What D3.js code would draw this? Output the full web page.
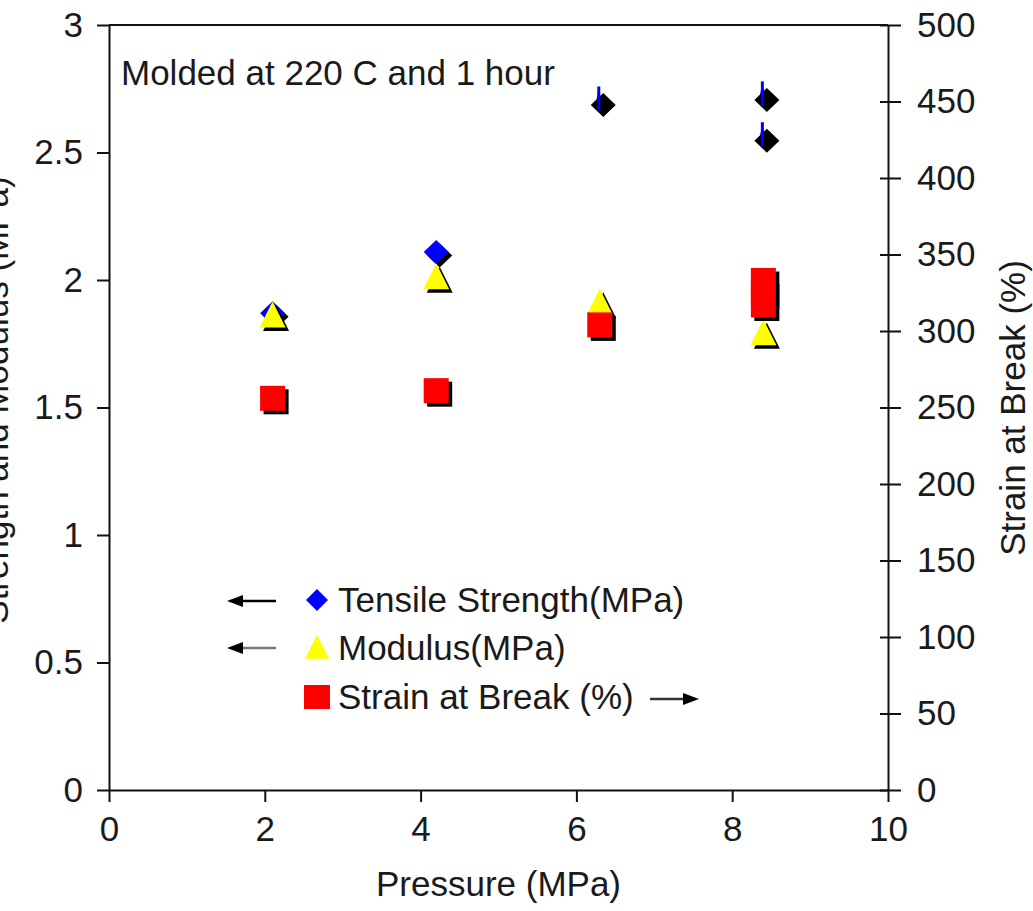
<!DOCTYPE html>
<html>
<head>
<meta charset="utf-8">
<script src="https://cdn.jsdelivr.net/npm/d3@7"></script>
<style>
  html, body { margin: 0; padding: 0; background: #fff; }
  svg { display: block; font-family: "Liberation Sans", Arial, sans-serif; }
</style>
</head>
<body>
<svg id="chart" width="1033" height="911"></svg>
<script>
// Pressure axis and the two value axes
const pressureTicks = [0, 2, 4, 6, 8, 10];
const leftTicks = [0, 0.5, 1, 1.5, 2, 2.5, 3];
const rightTicks = [0, 50, 100, 150, 200, 250, 300, 350, 400, 450, 500];

// Tensile strength (MPa) vs molding pressure (MPa)
const tensilePressure = [2.1, 4.2, 6.3, 8.4, 8.4];
const tensileValues   = [1.87, 2.11, 2.70, 2.72, 2.56];

// Modulus (MPa)
const modulusPressure = [2.1, 4.2, 6.3, 8.4];
const modulusValues   = [1.86, 2.01, 1.91, 1.79];

// Strain at break (%), right axis
const strainPressure = [2.1, 4.2, 6.3, 8.4, 8.4, 8.4];
const strainValues   = [256, 261, 304, 333, 325, 317];

const legendItems = ["Tensile Strength(MPa)", "Modulus(MPa)", "Strain at Break (%)"];

const svg = d3.select("#chart");
const W = 1033, H = 911;
const plot = { left: 109, right: 888, top: 25, bottom: 790 };
const textColor = "#1a1a1a";
const fontSize = 35;

svg.append("rect").attr("width", W).attr("height", H).attr("fill", "#fff");

const x = d3.scaleLinear().domain([0, 10]).range([plot.left, plot.right]);
const yL = d3.scaleLinear().domain([0, 3]).range([plot.bottom, plot.top]);
const yR = d3.scaleLinear().domain([0, 500]).range([plot.bottom, plot.top]);

// top frame line
svg.append("line")
  .attr("x1", plot.left).attr("x2", plot.right)
  .attr("y1", plot.top).attr("y2", plot.top)
  .attr("stroke", "#111").attr("stroke-width", 2);

function styleAxis(g) {
  g.selectAll("path.domain").attr("stroke", "#111").attr("stroke-width", 2);
  g.selectAll(".tick line").attr("stroke", "#111").attr("stroke-width", 2);
  g.selectAll(".tick text")
    .attr("fill", textColor)
    .style("font-size", fontSize + "px")
    .style("font-family", "\"Liberation Sans\", Arial, sans-serif");
}

// bottom axis
const gx = svg.append("g")
  .attr("transform", `translate(0,${plot.bottom})`)
  .call(d3.axisBottom(x).tickValues(pressureTicks).tickSize(12).tickSizeOuter(0).tickPadding(14));
styleAxis(gx);

// left axis
const gl = svg.append("g")
  .attr("transform", `translate(${plot.left},0)`)
  .call(d3.axisLeft(yL).tickValues(leftTicks).tickFormat(d3.format("")).tickSize(12).tickSizeOuter(0).tickPadding(14));
styleAxis(gl);

// right axis, ticks crossing the line
const gr = svg.append("g")
  .attr("transform", `translate(${plot.right},0)`)
  .call(d3.axisRight(yR).tickValues(rightTicks).tickSize(13).tickSizeOuter(0).tickPadding(16));
styleAxis(gr);
gr.selectAll(".tick line").attr("x1", -8);

// axis titles
svg.append("text")
  .attr("x", (plot.left + plot.right) / 2).attr("y", 896)
  .attr("text-anchor", "middle").attr("fill", textColor)
  .style("font-size", fontSize + "px")
  .text("Pressure (MPa)");

svg.append("text")
  .attr("transform", `translate(1025,408) rotate(-90)`)
  .attr("text-anchor", "middle").attr("fill", textColor)
  .style("font-size", fontSize + "px")
  .text("Strain at Break (%)");

// left title sits mostly past the page edge
svg.append("text")
  .attr("transform", `translate(8,400) rotate(-90)`)
  .attr("text-anchor", "middle").attr("fill", textColor)
  .style("font-size", fontSize + "px")
  .text("Strength and Modulus (MPa)");

// annotation
svg.append("text")
  .attr("x", 121).attr("y", 85)
  .attr("fill", textColor)
  .style("font-size", fontSize + "px")
  .text("Molded at 220 C and 1 hour");

// marker shapes
const diamond = (w, h) => `M0,${-h}L${w},0L0,${h}L${-w},0Z`;
const triangle = (w, h) => `M0,${-h * 0.55}L${w},${h * 0.45}L${-w},${h * 0.45}Z`;
const square = (w, h) => `M${-w},${-h}H${w}V${h}H${-w}Z`;

const shadow = 3.5;
const markers = svg.append("g");

function drawSeries(px, vals, yScale, shapePath, fill, darkFn) {
  const pts = px.map((p, i) => ({ p, v: vals[i], i }));
  const g = markers.append("g");
  pts.forEach(d => {
    const cx = x(d.p), cy = yScale(d.v);
    const dark = darkFn ? darkFn(d) : false;
    if (dark) {
      // shadow painted over the fill, leaving a thin coloured edge
      g.append("path").attr("d", shapePath)
        .attr("transform", `translate(${cx - 1},${cy - 1}) scale(0.2,1)`)
        .attr("fill", fill);
      g.append("path").attr("d", shapePath)
        .attr("transform", `translate(${cx + shadow},${cy + shadow})`)
        .attr("fill", "#000");
      g.append("rect")
        .attr("x", cx - 2.5).attr("y", cy - 15).attr("width", 3).attr("height", 24)
        .attr("fill", fill);
    } else {
      g.append("path").attr("d", shapePath)
        .attr("transform", `translate(${cx + shadow},${cy + shadow})`)
        .attr("fill", "#000");
      g.append("path").attr("d", shapePath)
        .attr("transform", `translate(${cx},${cy})`)
        .attr("fill", fill);
    }
  });
}

drawSeries(tensilePressure, tensileValues, yL, diamond(12.5, 12), "#0000ff", d => d.p > 5);
drawSeries(modulusPressure, modulusValues, yL, triangle(13, 26), "#ffff00");
drawSeries(strainPressure, strainValues, yR, square(12.5, 12.5), "#ff0000");

// legend
const legend = svg.append("g");
const rowsY = [600, 648, 697];
const legendShapes = [diamond(11, 11), triangle(12, 24), square(13, 12)];
const legendFills = ["#0000ff", "#ffff00", "#ff0000"];
legendItems.forEach((t, i) => {
  legend.append("path").attr("d", legendShapes[i])
    .attr("transform", `translate(317,${rowsY[i]})`)
    .attr("fill", legendFills[i]);
  legend.append("text")
    .attr("x", 338).attr("y", rowsY[i] + 12)
    .attr("fill", textColor)
    .style("font-size", fontSize + "px")
    .text(t);
});

// axis-pointer arrows next to the legend rows
function arrow(x1, x2, y, shaftColor) {
  const dir = Math.sign(x2 - x1);
  legend.append("line")
    .attr("x1", x1).attr("x2", x2 - dir * 12)
    .attr("y1", y).attr("y2", y)
    .attr("stroke", shaftColor).attr("stroke-width", 2.5);
  legend.append("path")
    .attr("d", `M${x2},${y}L${x2 - dir * 16},${y - 6}L${x2 - dir * 16},${y + 6}Z`)
    .attr("fill", "#000");
}
arrow(276, 227, 601, "#000");
arrow(276, 227, 648, "#777");
arrow(650, 699, 699, "#333");
</script>
</body>
</html>
